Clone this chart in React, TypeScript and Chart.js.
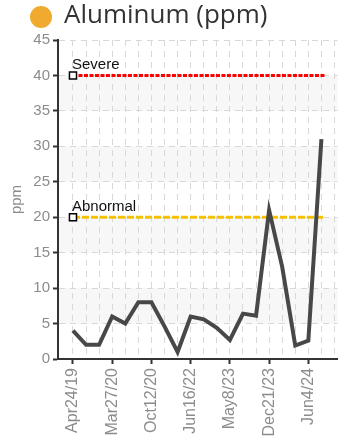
import React, { useEffect, useRef } from "react";
import { Chart, registerables } from "chart.js";

Chart.register(...registerables);

const dates = [
  "Apr24/19", "Jul15/19", "Nov4/19", "Mar27/20", "Jun2/20", "Aug20/20", "Oct12/20",
  "Mar3/21", "Sep14/21", "Jun16/22", "Sep8/22", "Jan19/23", "May8/23", "Aug1/23",
  "Oct10/23", "Dec21/23", "Feb27/24", "Apr11/24", "Jun4/24", "Aug15/24",
];
const aluminum = [4, 2, 2, 6, 5, 8, 8, 4.6, 1, 6, 5.6, 4.4, 2.7, 6.4, 6.1, 21, 13, 1.9, 2.6, 31];
const severeLevel = 40;
const abnormalLevel = 20;
const yTicks = [0, 5, 10, 15, 20, 25, 30, 35, 40, 45];

const FONT = "'Liberation Sans', Arial, sans-serif";

export default function App() {
  const ref = useRef<HTMLCanvasElement | null>(null);

  useEffect(() => {
    if (!ref.current) return;
    const lineEnd = aluminum.length - 1 + 0.28;

    const bandsPlugin = {
      id: "bands",
      beforeDraw(chart: any) {
        const { ctx, chartArea, scales } = chart;
        const y = scales.y;
        ctx.save();
        ctx.fillStyle = "#f7f7f7";
        for (let i = 1; i + 1 < yTicks.length; i += 2) {
          const top = y.getPixelForValue(yTicks[i + 1]);
          const bot = y.getPixelForValue(yTicks[i]);
          ctx.fillRect(chartArea.left, top, chartArea.right - chartArea.left, bot - top);
        }
        ctx.restore();
      },
    };

    const labelsPlugin = {
      id: "thresholdLabels",
      afterDatasetsDraw(chart: any) {
        const { ctx, scales } = chart;
        ctx.save();
        ctx.font = `15px ${FONT}`;
        ctx.fillStyle = "#111";
        ctx.textAlign = "left";
        ctx.textBaseline = "alphabetic";
        const x = scales.x.getPixelForValue(0) - 1;
        ctx.fillText("Severe", x, scales.y.getPixelForValue(severeLevel) - 6);
        ctx.fillText("Abnormal", x, scales.y.getPixelForValue(abnormalLevel) - 6);
        ctx.restore();
      },
    };

    const chart = new Chart(ref.current, {
      type: "line",
      data: {
        datasets: [
          {
            label: "Aluminum",
            data: aluminum.map((v, i) => ({ x: i, y: v })),
            borderColor: "#484848",
            borderWidth: 4,
            pointRadius: 0,
            borderJoinStyle: "miter",
            tension: 0,
          },
          {
            label: "Abnormal",
            data: [{ x: 0, y: abnormalLevel }, { x: lineEnd, y: abnormalLevel }],
            borderColor: "#f5c200",
            borderWidth: 3,
            borderDash: [7, 2],
            pointRadius: [5, 0],
            pointStyle: "rect",
            pointBackgroundColor: "#fff",
            pointBorderColor: "#000",
            pointBorderWidth: 1.5,
          },
          {
            label: "Severe",
            data: [{ x: 0, y: severeLevel }, { x: lineEnd, y: severeLevel }],
            borderColor: "#ff0000",
            borderWidth: 3,
            borderDash: [4, 1.5],
            pointRadius: [5, 0],
            pointStyle: "rect",
            pointBackgroundColor: "#fff",
            pointBorderColor: "#000",
            pointBorderWidth: 1.5,
          },
        ],
      } as any,
      options: {
        animation: false,
        responsive: true,
        maintainAspectRatio: false,
        layout: { padding: { top: 40, right: 6, left: 0, bottom: 0 } },
        plugins: {
          legend: { display: false },
          tooltip: { enabled: false },
          title: { display: false },
        },
        scales: {
          x: {
            type: "linear",
            min: -1.145,
            max: 20.23,
            afterFit: (axis: any) => {
              axis.height = 80;
              axis.paddingRight = 0;
              axis.paddingLeft = 0;
            },
            ticks: {
              stepSize: 1,
              autoSkip: false,
              includeBounds: false,
              minRotation: 90,
              maxRotation: 90,
              padding: 4,
              color: "#8c8c8c",
              font: { family: FONT, size: 16 },
              callback: (v: any) => {
                const i = Number(v);
                return Number.isInteger(i) && i >= 0 && i < dates.length && i % 3 === 0 ? dates[i] : "";
              },
            },
            grid: {
              color: (c: any) => (c.tick && c.tick.value >= 0 ? "#d8d8d8" : "rgba(0,0,0,0)"),
              lineWidth: 1,
              tickLength: 5,
              tickWidth: 2,
              tickColor: (c: any) =>
                c.tick && c.tick.value >= 0 && c.tick.value % 3 === 0 && c.tick.value < dates.length
                  ? "#333"
                  : "rgba(0,0,0,0)",
            },
            border: { display: true, color: "#333", width: 2, dash: [6, 5] },
          },
          y: {
            min: 0,
            max: 45,
            afterFit: (axis: any) => {
              axis.width = 58;
            },
            ticks: {
              stepSize: 5,
              padding: 3,
              color: "#8c8c8c",
              font: { family: FONT, size: 15 },
            },
            grid: {
              color: "#d8d8d8",
              lineWidth: 1,
              tickLength: 5,
              tickWidth: 2,
              tickColor: "#333",
            },
            border: { display: true, color: "#333", width: 2, dash: [6, 5] },
            title: {
              display: true,
              text: "ppm",
              color: "#8c8c8c",
              font: { family: FONT, size: 15 },
              padding: { top: 8, bottom: 0 },
            },
          },
        },
      } as any,
      plugins: [bandsPlugin, labelsPlugin],
    });
    return () => chart.destroy();
  }, []);

  return (
    <div style={{ position: "fixed", left: 0, top: 0, width: 344, height: 439, background: "#fff" }}>
      <div
        style={{
          position: "absolute",
          left: 30,
          top: 6,
          width: 22,
          height: 22,
          borderRadius: "50%",
          background: "#efaa2f",
        }}
      />
      <div
        style={{
          position: "absolute",
          left: 64,
          top: 0,
          fontFamily: "'Open Sans', sans-serif",
          fontSize: 26,
          lineHeight: "26px",
          color: "#333",
          whiteSpace: "nowrap",
        }}
      >
        Aluminum (ppm)
      </div>
      <div style={{ position: "absolute", left: 0, top: 0, width: 344, height: 439 }}>
        <canvas ref={ref} />
      </div>
    </div>
  );
}
